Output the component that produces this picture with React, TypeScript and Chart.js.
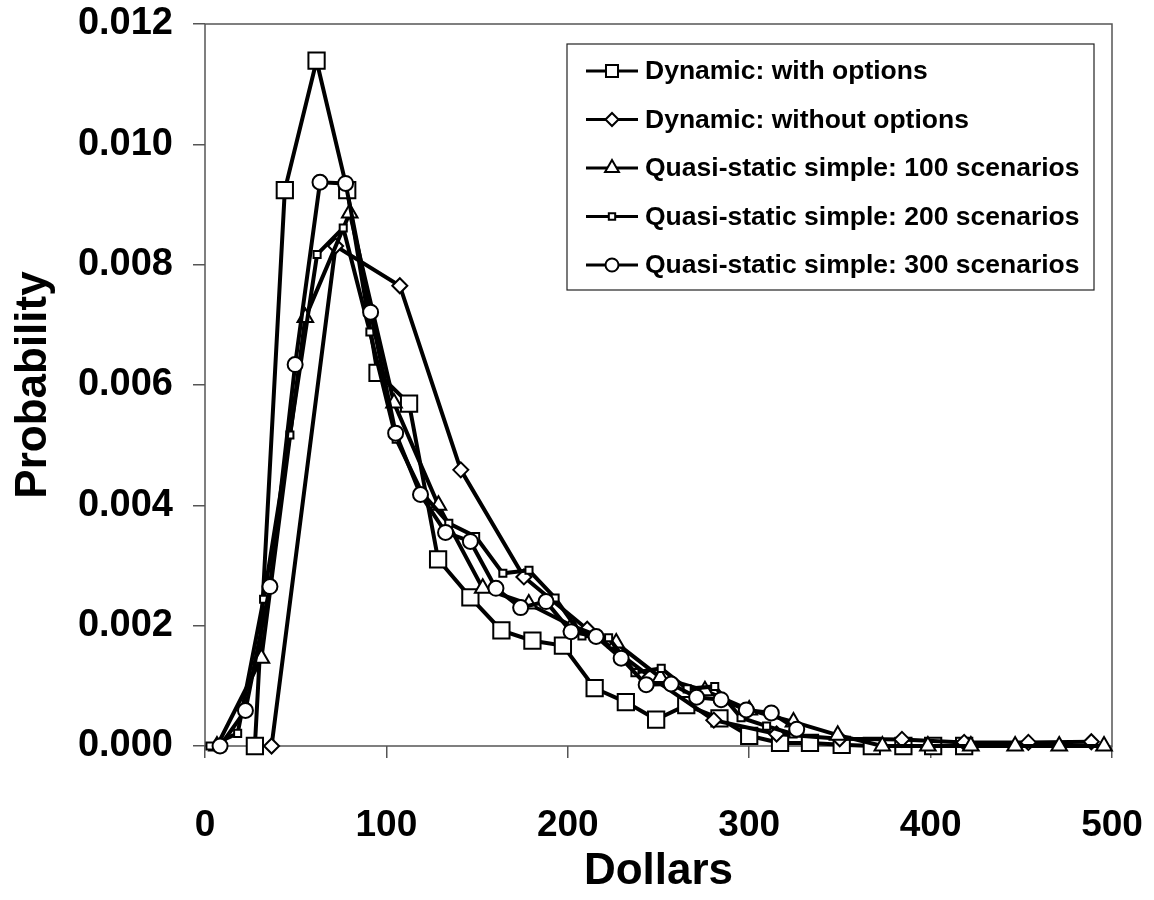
import React, { useEffect, useRef } from 'react';
import { Chart, registerables } from 'chart.js';
import { drawPoint } from 'chart.js/helpers';

Chart.register(...registerables);

const FONT = '"Liberation Sans", Arial, sans-serif';

const seriesLabels = [
  'Dynamic: with options',
  'Dynamic: without options',
  'Quasi-static simple: 100 scenarios',
  'Quasi-static simple: 200 scenarios',
  'Quasi-static simple: 300 scenarios',
];

// Dynamic: with options (large squares)
const withOptX = [27.5, 44, 61.5, 78.4, 95.1, 112.5, 128.5, 146.3, 163.4, 180.5, 197.3, 214.8, 232, 248.7, 265.3, 283.6, 300, 317, 333.5, 351, 367.6, 385, 401.4, 418.5];
const withOptY = [0, 0.00924, 0.01139, 0.00924, 0.0062, 0.00569, 0.0031, 0.00247, 0.00192, 0.00175, 0.00167, 0.00096, 0.00073, 0.00044, 0.00068, 0.00046, 0.00017, 0.00005, 0.00005, 0.00002, 0, 0, 0, 0];

// Dynamic: without options (diamonds)
const withoutOptX = [36.7, 72, 107.4, 141, 175.8, 210.7, 245.5, 280.5, 315.1, 349.9, 384.2, 418.5, 453.9, 488.6];
const withoutOptY = [0, 0.00831, 0.00765, 0.00459, 0.00281, 0.00194, 0.00115, 0.00043, 0.0002, 0.00012, 0.00011, 0.00006, 0.00006, 0.00007];

// Quasi-static simple: 100 scenarios (triangles)
const qs100X = [6.6, 31.1, 55.3, 79.8, 104.2, 128.7, 153.1, 178.5, 202.2, 226.7, 251, 275.6, 300, 324.4, 348.8, 373.4, 398.5, 422.2, 446.6, 470.9, 495.6];
const qs100Y = [0, 0.00146, 0.00712, 0.00886, 0.0057, 0.004, 0.00262, 0.00236, 0.002, 0.00171, 0.00114, 0.00092, 0.0006, 0.0004, 0.00018, 0, 0, 0, 0, 0, 0];

// Quasi-static simple: 200 scenarios (small squares)
const qs200X = [2.75, 18, 32.3, 46.8, 61.8, 76.2, 90.9, 105.4, 119.8, 134.4, 149.2, 164.2, 178.6, 193, 207.8, 222.5, 237, 251.5, 265.8, 281, 295.5, 309.6, 324.2];
const qs200Y = [0, 0.00021, 0.00244, 0.00517, 0.00817, 0.00861, 0.00688, 0.0051, 0.0042, 0.0037, 0.00348, 0.00287, 0.00292, 0.00246, 0.00183, 0.0018, 0.00122, 0.00129, 0.00095, 0.00099, 0.00047, 0.00033, 0.0002];

// Quasi-static simple: 300 scenarios (circles)
const qs300X = [8.3, 22.3, 35.8, 49.7, 63.4, 77.5, 91.3, 105.1, 118.8, 132.6, 146.3, 160.4, 174, 188, 201.8, 215.6, 229.4, 243.2, 257, 271, 284.5, 298.4, 312.2, 326.2];
const qs300Y = [0, 0.00059, 0.00265, 0.00634, 0.00937, 0.00935, 0.00721, 0.0052, 0.00418, 0.00355, 0.0034, 0.00262, 0.0023, 0.0024, 0.0019, 0.00182, 0.00146, 0.00102, 0.00103, 0.00081, 0.00077, 0.0006, 0.00055, 0.00028];

const xTickLabels = ['0', '100', '200', '300', '400', '500'];
const yTickLabels = ['0.000', '0.002', '0.004', '0.006', '0.008', '0.010', '0.012'];

const xsList = [withOptX, withoutOptX, qs100X, qs200X, qs300X];
const ysList = [withOptY, withoutOptY, qs100Y, qs200Y, qs300Y];
const pointStyles = ['rect', 'rectRot', 'triangle', 'rect', 'circle'];
const pointRadii = [11.5, 7.5, 9, 5, 7.5];
const legendRadii = [8.5, 6.5, 8, 4.5, 6.5];
const drawOrder = [5, 4, 3, 2, 1];

const zeroPad = (s: any) => {
  s.paddingTop = 0;
  s.paddingBottom = 0;
  s.paddingLeft = 0;
  s.paddingRight = 0;
};

const framePlugin = {
  id: 'frameAndLegend',
  beforeDatasetsDraw(chart: any) {
    const { ctx, chartArea: a } = chart;
    ctx.save();
    ctx.strokeStyle = '#555';
    ctx.lineWidth = 1.5;
    ctx.strokeRect(a.left, a.top, a.right - a.left, a.bottom - a.top);
    ctx.restore();
  },
  afterDraw(chart: any) {
    const { ctx } = chart;
    const boxL = 567, boxT = 44, boxR = 1094, boxB = 290;
    ctx.save();
    ctx.fillStyle = '#fff';
    ctx.fillRect(boxL, boxT, boxR - boxL, boxB - boxT);
    ctx.strokeStyle = '#222';
    ctx.lineWidth = 1.2;
    ctx.strokeRect(boxL, boxT, boxR - boxL, boxB - boxT);
    const rowY0 = 71, rowGap = 48.5;
    seriesLabels.forEach((label, i) => {
      const y = rowY0 + i * rowGap;
      ctx.strokeStyle = '#000';
      ctx.lineWidth = 3;
      ctx.beginPath();
      ctx.moveTo(586, y);
      ctx.lineTo(638, y);
      ctx.stroke();
      ctx.fillStyle = '#fff';
      ctx.strokeStyle = '#000';
      ctx.lineWidth = 2;
      drawPoint(ctx, { pointStyle: pointStyles[i], radius: legendRadii[i], borderWidth: 2, rotation: 0 } as any, 612, y);
      ctx.fillStyle = '#000';
      ctx.font = `bold 26.5px ${FONT}`;
      ctx.textAlign = 'left';
      ctx.textBaseline = 'middle';
      ctx.fillText(label, 645, y + 1);
    });
    ctx.restore();
  },
};

export default function App() {
  const ref = useRef<HTMLCanvasElement | null>(null);
  useEffect(() => {
    const canvas = ref.current;
    if (!canvas) return;
    const datasets = seriesLabels.map((label, i) => ({
      label,
      data: xsList[i].map((x, j) => ({ x, y: ysList[i][j] })),
      borderColor: '#000',
      borderWidth: 4,
      backgroundColor: '#fff',
      pointStyle: pointStyles[i],
      pointRadius: pointRadii[i],
      pointBorderWidth: 2,
      pointBorderColor: '#000',
      pointBackgroundColor: '#fff',
      tension: 0,
      fill: false,
      clip: false as any,
      order: drawOrder[i],
    }));
    const chart = new Chart(canvas, {
      type: 'line',
      data: { datasets },
      options: {
        animation: false,
        responsive: false,
        devicePixelRatio: 1,
        layout: { padding: { top: 24, right: 42, left: 0, bottom: 0 } },
        plugins: { legend: { display: false }, tooltip: { enabled: false } },
        scales: {
          x: {
            type: 'linear',
            min: 0,
            max: 500,
            afterFit: (s: any) => { s.height = 154; zeroPad(s); },
            ticks: {
              stepSize: 100,
              maxRotation: 0,
              color: '#000',
              padding: 46,
              font: { family: FONT, size: 37, weight: 'bold' },
              callback: (_v: any, i: number) => xTickLabels[i],
            },
            grid: { drawOnChartArea: false, drawTicks: true, tickLength: 12, color: '#555', lineWidth: 1.5 },
            border: { display: false },
            title: { display: true, text: 'Dollars', color: '#000', padding: { top: 0, bottom: 2 }, font: { family: FONT, size: 44, weight: 'bold' } },
          },
          y: {
            type: 'linear',
            min: 0,
            max: 0.012,
            afterFit: (s: any) => { s.width = 205; zeroPad(s); },
            ticks: {
              stepSize: 0.002,
              color: '#000',
              padding: 20,
              font: { family: FONT, size: 38, weight: 'bold' },
              callback: (_v: any, i: number) => yTickLabels[i],
            },
            grid: { drawOnChartArea: false, drawTicks: true, tickLength: 12, color: '#555', lineWidth: 1.5 },
            border: { display: false },
            title: { display: true, text: 'Probability', color: '#000', padding: { top: 7, bottom: 0 }, font: { family: FONT, size: 44, weight: 'bold' } },
          },
        },
      } as any,
      plugins: [framePlugin],
    });
    return () => chart.destroy();
  }, []);
  return (
    <div style={{ position: 'absolute', left: 0, top: 0, width: 1154, height: 900, background: '#fff' }}>
      <canvas ref={ref} width={1154} height={900} style={{ display: 'block', width: 1154, height: 900 }} />
    </div>
  );
}
